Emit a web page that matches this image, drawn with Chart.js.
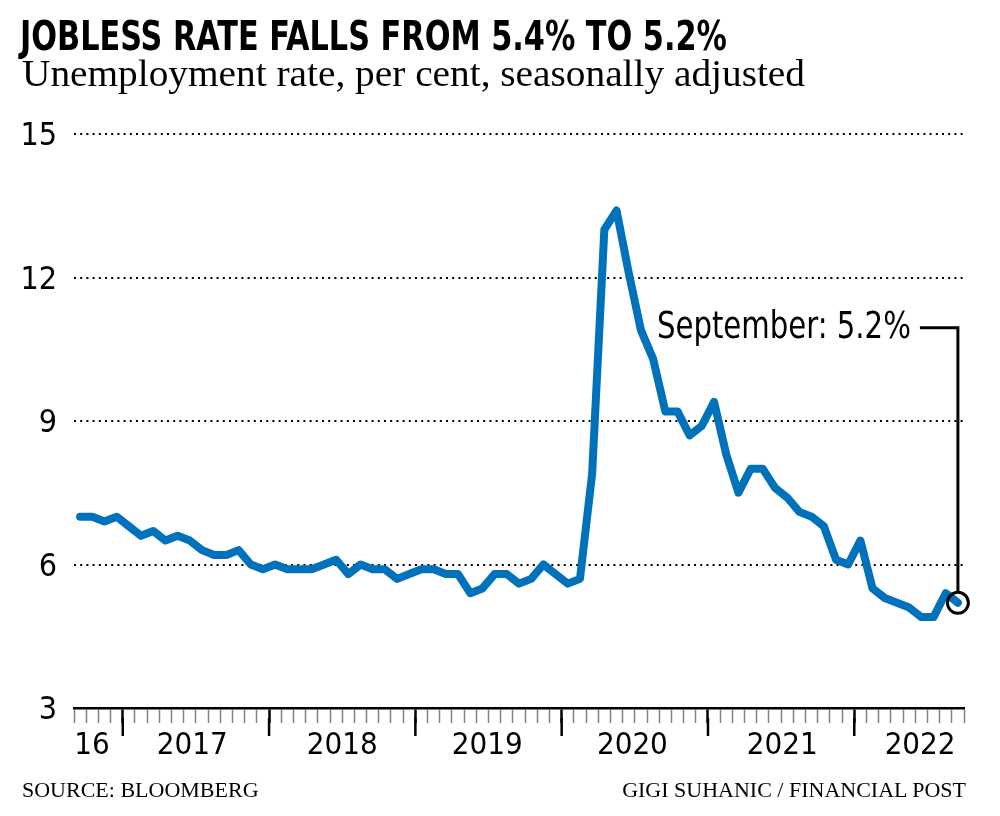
<!DOCTYPE html>
<html>
<head>
<meta charset="utf-8">
<script src="https://cdn.jsdelivr.net/npm/chart.js@4.4.0/dist/chart.umd.min.js"></script>
<style>
  html, body { margin: 0; padding: 0; background: #fff; }
  #wrap { position: relative; width: 1000px; height: 816px; overflow: hidden; }
  #chart { position: absolute; left: 0; top: 0; }
  .txt { position: absolute; white-space: nowrap; line-height: 1; color: #000; transform-origin: 0 0; }
  #title { left: 20px; top: 13px; font: bold 40px "Liberation Sans Narrow", "DejaVu Sans Condensed", sans-serif; }
  #subtitle { left: 22px; top: 51px; font: 38px "Liberation Serif", serif; }
  #source { left: 22px; top: 777px; font: 22px "Liberation Serif", serif; }
  #credit { right: 34px; top: 777px; font: 22px "Liberation Serif", serif; transform-origin: 100% 0; }
</style>
</head>
<body>
<div id="wrap">
  <canvas id="chart" width="1000" height="816"></canvas>
  <div class="txt" id="title">JOBLESS RATE FALLS FROM 5.4% TO 5.2%</div>
  <div class="txt" id="subtitle">Unemployment rate, per cent, seasonally adjusted</div>
  <div class="txt" id="source">SOURCE: BLOOMBERG</div>
  <div class="txt" id="credit">GIGI SUHANIC / FINANCIAL POST</div>
</div>
<script>
// Monthly data, Sep 2016 - Sep 2022
const months = [
    'Sep 2016', 'Oct 2016', 'Nov 2016', 'Dec 2016',
    'Jan 2017', 'Feb 2017', 'Mar 2017', 'Apr 2017', 'May 2017', 'Jun 2017', 'Jul 2017', 'Aug 2017', 'Sep 2017', 'Oct 2017', 'Nov 2017', 'Dec 2017',
    'Jan 2018', 'Feb 2018', 'Mar 2018', 'Apr 2018', 'May 2018', 'Jun 2018', 'Jul 2018', 'Aug 2018', 'Sep 2018', 'Oct 2018', 'Nov 2018', 'Dec 2018',
    'Jan 2019', 'Feb 2019', 'Mar 2019', 'Apr 2019', 'May 2019', 'Jun 2019', 'Jul 2019', 'Aug 2019', 'Sep 2019', 'Oct 2019', 'Nov 2019', 'Dec 2019',
    'Jan 2020', 'Feb 2020', 'Mar 2020', 'Apr 2020', 'May 2020', 'Jun 2020', 'Jul 2020', 'Aug 2020', 'Sep 2020', 'Oct 2020', 'Nov 2020', 'Dec 2020',
    'Jan 2021', 'Feb 2021', 'Mar 2021', 'Apr 2021', 'May 2021', 'Jun 2021', 'Jul 2021', 'Aug 2021', 'Sep 2021', 'Oct 2021', 'Nov 2021', 'Dec 2021',
    'Jan 2022', 'Feb 2022', 'Mar 2022', 'Apr 2022', 'May 2022', 'Jun 2022', 'Jul 2022', 'Aug 2022', 'Sep 2022'
];
const rates = [
    7.0, 7.0, 6.9, 7.0,
    6.8, 6.6, 6.7, 6.5, 6.6, 6.5, 6.3, 6.2, 6.2, 6.3, 6.0, 5.9,
    6.0, 5.9, 5.9, 5.9, 6.0, 6.1, 5.8, 6.0, 5.9, 5.9, 5.7, 5.8,
    5.9, 5.9, 5.8, 5.8, 5.4, 5.5, 5.8, 5.8, 5.6, 5.7, 6.0, 5.8,
    5.6, 5.7, 7.9, 13.0, 13.4, 12.1, 10.9, 10.3, 9.2, 9.2, 8.7, 8.9,
    9.4, 8.3, 7.5, 8.0, 8.0, 7.6, 7.4, 7.1, 7.0, 6.8, 6.1, 6.0,
    6.5, 5.5, 5.3, 5.2, 5.1, 4.9, 4.9, 5.4, 5.2
];
const yTicks = [3, 6, 9, 12, 15];
const yearLabels = ['16', '2017', '2018', '2019', '2020', '2021', '2022'];
const yearLabelAt = [0.98, 9.2, 21.5, 33.4, 45.3, 57.6, 68.9];   // month index where each label sits

const BLUE = '#0071bb';
const NARROW = '"Liberation Sans Narrow", "DejaVu Sans Condensed", sans-serif';
const last = rates.length - 1;
const calloutY = 10.95;

// month boundaries: tick i sits before months[i]
const isJan = i => i < months.length && months[i].startsWith('Jan');

const calloutPlugin = {
    id: 'callout',
    afterDraw(chart) {
        const ctx = chart.ctx;
        const xs = chart.scales.x, ys = chart.scales.y;

        // longer year ticks
        ctx.save();
        ctx.strokeStyle = '#000';
        ctx.lineWidth = 2.5;
        for (let i = 0; i < months.length; i++) {
            if (!isJan(i)) continue;
            const px = xs.getPixelForValue(i - 0.5);
            ctx.beginPath();
            ctx.moveTo(px, xs.top + 10);
            ctx.lineTo(px, xs.top + 28);
            ctx.stroke();
        }

        // September label and connector
        const px = xs.getPixelForValue(last);
        const py = ys.getPixelForValue(rates[last]);
        const ly = ys.getPixelForValue(calloutY);
        ctx.lineWidth = 3;
        ctx.beginPath();
        ctx.moveTo(px - 38, ly);
        ctx.lineTo(px, ly);
        ctx.lineTo(px, py - 10);
        ctx.stroke();

        const text = months[last].split(' ')[0].replace('Sep', 'September') + ': ' + rates[last].toFixed(1) + '%';
        ctx.fillStyle = '#000';
        ctx.font = '37px ' + NARROW;
        ctx.textAlign = 'right';
        ctx.textBaseline = 'middle';
        const w = ctx.measureText(text).width;
        ctx.translate(px - 47, ly + 1);
        ctx.scale(254 / w, 1);
        ctx.fillText(text, 0, 0);
        ctx.restore();
    }
};

new Chart(document.getElementById('chart'), {
    type: 'line',
    data: {
        datasets: [
            {
                data: rates.map((v, i) => ({ x: i, y: v })),
                borderColor: BLUE,
                borderWidth: 8,
                borderJoinStyle: 'round',
                borderCapStyle: 'round',
                pointRadius: 0,
                tension: 0,
                order: 2
            },
            {
                data: [{ x: last, y: rates[last] }],
                showLine: false,
                pointRadius: 10.5,
                pointBorderWidth: 3,
                pointBorderColor: '#000',
                pointBackgroundColor: 'rgba(0,0,0,0)',
                clip: false,
                order: 1
            }
        ]
    },
    options: {
        responsive: false,
        animation: false,
        devicePixelRatio: 1,
        layout: { padding: { top: 134, right: 36, left: 0, bottom: 0 } },
        plugins: { legend: { display: false }, tooltip: { enabled: false } },
        scales: {
            x: {
                type: 'linear',
                min: -0.5,
                max: months.length - 0.5,
                weight: 0,
                afterBuildTicks: s => { s.ticks = months.map((m, i) => ({ value: i - 0.5 })).concat([{ value: months.length - 0.5 }]); },
                ticks: { display: false },
                grid: {
                    drawOnChartArea: false,
                    drawTicks: true,
                    tickLength: 15,
                    tickColor: c => isJan(c.index) ? '#000' : '#808080',
                    tickWidth: c => isJan(c.index) ? 2.5 : 1.5
                },
                border: { display: true, color: '#000', width: 2.5 },
                afterFit: s => { s.height = 15; }
            },
            x2: {
                type: 'linear',
                position: 'bottom',
                min: -0.5,
                max: months.length - 0.5,
                weight: 1,
                afterBuildTicks: s => { s.ticks = yearLabelAt.map(v => ({ value: v })); },
                ticks: {
                    callback: (v, i) => yearLabels[i],
                    font: { family: NARROW, size: 31 },
                    color: '#000',
                    padding: 4,
                    maxRotation: 0,
                    autoSkip: false
                },
                grid: { display: false, drawTicks: false },
                border: { display: false },
                afterFit: s => { s.height = 93; }
            },
            y: {
                min: 3,
                max: 15,
                afterBuildTicks: s => { s.ticks = yTicks.map(v => ({ value: v })); },
                ticks: { font: { family: NARROW, size: 32 }, color: '#000', padding: 17, labelOffset: 3 },
                grid: {
                    color: c => c.tick && c.tick.value === 3 ? 'rgba(0,0,0,0)' : '#000',
                    lineWidth: 2,
                    drawTicks: false
                },
                border: { display: false, dash: [2, 4.2] },
                afterFit: s => { s.width = 74; }
            }
        }
    },
    plugins: [calloutPlugin]
});

// stretch headline texts to the widths they have in the print graphic
function fit(id, target) {
    const el = document.getElementById(id);
    el.style.transform = 'none';
    const w = el.getBoundingClientRect().width;
    el.style.transform = 'scaleX(' + (target / w) + ')';
}
document.fonts.ready.then(() => {
    fit('title', 707);
    fit('subtitle', 783);
});
fit('title', 707);
fit('subtitle', 783);
</script>
</body>
</html>
